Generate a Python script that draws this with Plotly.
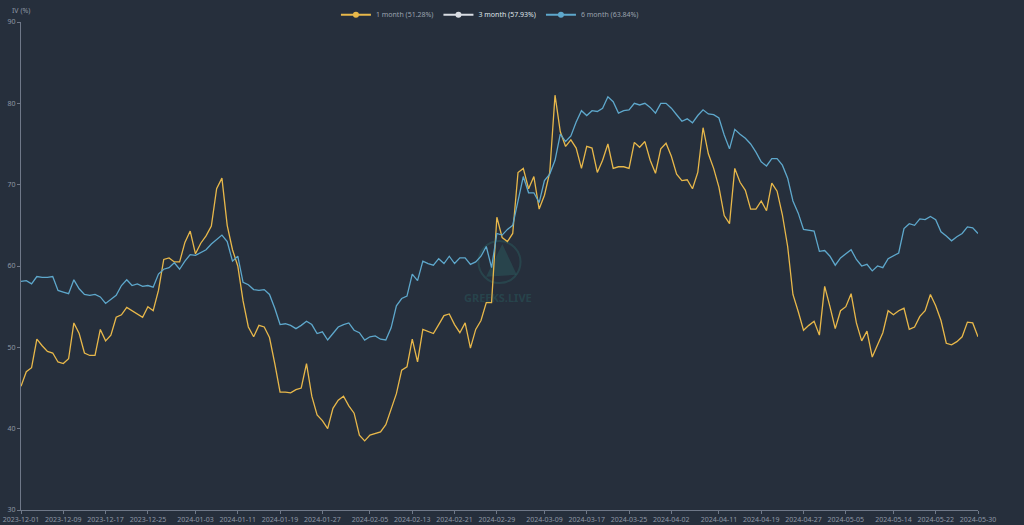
import pandas as pd
import plotly.graph_objects as go

# daily implied volatility readings, 2023-12-01 .. 2024-05-30
start_date = "2023-12-01"

iv_1m = [
    45.2, 47.0, 47.5, 51.0, 50.2, 49.5, 49.3, 48.2, 48.0, 48.6,
    53.0, 51.7, 49.3, 49.0, 49.0, 52.2, 50.8, 51.5, 53.7, 54.0,
    54.9, 54.5, 54.0, 53.7, 55.0, 54.5, 57.0, 60.8, 61.0, 60.5,
    60.5, 62.9, 64.3, 61.5, 62.8, 63.7, 64.9, 69.5, 70.8, 65.0,
    62.0, 60.0, 55.7, 52.5, 51.3, 52.7, 52.5, 51.2, 48.0, 44.5,
    44.5, 44.4, 44.8, 45.0, 48.0, 44.0, 41.7, 41.0, 40.0, 42.5,
    43.5, 44.0, 42.8, 41.9, 39.2, 38.5, 39.2, 39.4, 39.6, 40.5,
    42.3, 44.3, 47.2, 47.6, 51.0, 48.2, 52.2, 51.9, 51.7, 52.8,
    53.9, 54.1, 52.8, 51.8, 53.0, 49.9, 52.2, 53.3, 55.5, 55.5,
    66.0, 63.5, 63.0, 64.0, 71.5, 72.0, 69.5, 71.0, 67.0, 68.7,
    71.5, 81.0, 76.5, 74.7, 75.5, 74.5, 72.0, 74.7, 74.5, 71.5,
    73.0, 75.0, 72.0, 72.2, 72.2, 72.0, 75.2, 74.6, 75.3, 73.0,
    71.4, 74.4, 75.1, 73.5, 71.3, 70.5, 70.6, 69.5, 71.5, 77.0,
    73.8, 72.0, 69.7, 66.2, 65.2, 72.0, 70.3, 69.3, 67.0, 67.0,
    68.0, 66.8, 70.2, 69.2, 66.3, 62.4, 56.5, 54.4, 52.1, 52.7,
    53.2, 51.5, 57.5, 55.0, 52.3, 54.5, 55.0, 56.6, 53.0, 50.8,
    52.0, 48.8, 50.3, 51.8, 54.5, 54.0, 54.5, 54.8, 52.2, 52.5,
    53.8, 54.5, 56.5, 55.1, 53.3, 50.5, 50.3, 50.7, 51.3, 53.1,
    53.0, 51.3,
]

iv_6m = [
    58.1, 58.2, 57.8, 58.7, 58.6, 58.6, 58.7, 57.0, 56.8, 56.6,
    58.3, 57.2, 56.5, 56.4, 56.5, 56.2, 55.4, 55.9, 56.4, 57.6,
    58.3, 57.6, 57.8, 57.5, 57.6, 57.4, 59.0, 59.6, 59.8, 60.4,
    59.6, 60.6, 61.4, 61.3, 61.7, 62.0, 62.7, 63.2, 63.8, 63.0,
    60.6, 61.2, 58.0, 57.7, 57.1, 57.0, 57.1, 56.5, 54.8, 52.8,
    52.9, 52.7, 52.3, 52.7, 53.2, 52.8, 51.7, 51.9, 50.9, 51.7,
    52.5, 52.8, 53.0, 52.1, 51.8, 50.9, 51.3, 51.4, 51.0, 50.9,
    52.4, 55.1, 56.0, 56.3, 59.0, 58.2, 60.6, 60.3, 60.1, 60.9,
    60.3, 61.2, 60.3, 61.0, 61.0, 60.2, 60.5, 61.2, 62.4, 59.8,
    64.0, 63.8, 64.5, 65.0, 68.0, 71.0, 69.0, 69.0, 67.8, 70.5,
    71.3, 73.0, 76.2, 75.3, 76.0, 77.7, 79.1, 78.5, 79.1, 79.0,
    79.4, 80.8, 80.2, 78.8, 79.1, 79.2, 80.0, 79.8, 80.0, 79.5,
    78.8, 80.0, 80.0, 79.4, 78.6, 77.8, 78.1, 77.6, 78.5, 79.2,
    78.7, 78.6, 78.2, 76.1, 74.4, 76.8, 76.2, 75.7, 75.0, 74.0,
    72.8, 72.3, 73.2, 73.2, 72.4, 70.8, 68.0, 66.5, 64.5, 64.4,
    64.3, 61.8, 61.9, 61.2, 60.1, 61.0, 61.5, 62.0, 60.8, 60.0,
    60.2, 59.4, 60.0, 59.8, 60.9, 61.3, 61.6, 64.6, 65.2, 65.0,
    65.8, 65.7, 66.1, 65.7, 64.2, 63.7, 63.1, 63.6, 64.0, 64.8,
    64.7, 64.0,
]

series_names = ["1 month (51.28%)", "3 month (57.93%)", "6 month (63.84%)"]
series_colors = ["#e8b84a", "#d9dde3", "#5ea8cc"]
legend_text_colors = ["#9aa2ae", "#dfe3e8", "#9aa2ae"]

tick_dates = [
    "2023-12-01", "2023-12-09", "2023-12-17", "2023-12-25", "2024-01-03",
    "2024-01-11", "2024-01-19", "2024-01-27", "2024-02-05", "2024-02-13",
    "2024-02-21", "2024-02-29", "2024-03-09", "2024-03-17", "2024-03-25",
    "2024-04-02", "2024-04-11", "2024-04-19", "2024-04-27", "2024-05-05",
    "2024-05-14", "2024-05-22", "2024-05-30",
]
y_ticks = [30, 40, 50, 60, 70, 80, 90]

dates = pd.date_range(start_date, periods=len(iv_1m), freq="D")

bg = "#262f3c"
axis_col = "#6f7888"
label_col = "#8e97a5"
wm = "rgba(45,120,115,0.30)"

fig = go.Figure()

# actual lines
for vals, color in [(iv_1m, series_colors[0]), (iv_6m, series_colors[2])]:
    fig.add_trace(go.Scatter(x=dates, y=vals, mode="lines",
                             line=dict(color=color, width=1.3),
                             showlegend=False, hoverinfo="x+y"))

# legend entries (line + dot icons)
for name, color, tcol in zip(series_names, series_colors, legend_text_colors):
    fig.add_trace(go.Scatter(x=[None], y=[None], mode="lines+markers",
                             name=f"<span style='color:{tcol}'>{name}</span>",
                             line=dict(color=color, width=2),
                             marker=dict(color=color, size=6)))

# watermark
fig.add_shape(type="circle", xref="paper", yref="paper", layer="below",
              x0=0.478, x1=0.522, y0=0.465, y1=0.551,
              line=dict(color=wm, width=2))
fig.add_shape(type="path", xref="paper", yref="paper", layer="below",
              path="M 0.486 0.478 L 0.503 0.545 L 0.518 0.482 Z",
              fillcolor=wm, line=dict(width=0))
fig.add_annotation(text="<b>GREEKS.LIVE</b>", xref="paper", yref="paper",
                   x=0.498, y=0.436, showarrow=False,
                   font=dict(size=11, color=wm, family="Noto Sans"))

# y axis title
fig.add_annotation(text="IV (%)", xref="paper", yref="paper", x=0, y=1,
                   xanchor="center", yanchor="bottom", yshift=5, showarrow=False,
                   font=dict(size=7, color=label_col))

fig.update_layout(
    width=1024, height=525,
    paper_bgcolor=bg, plot_bgcolor=bg,
    margin=dict(l=21, r=46, t=22, b=15, autoexpand=False),
    font=dict(family="Noto Sans", size=7, color=label_col),
    legend=dict(orientation="h", x=0.49, xanchor="center",
                yref="container", y=0.972, yanchor="middle",
                font=dict(size=7, color="#9aa2ae"), itemwidth=30,
                bgcolor="rgba(0,0,0,0)"),
    showlegend=True,
)

fig.update_xaxes(
    type="date", range=[dates[0], dates[-1]],
    tickvals=tick_dates, ticktext=tick_dates, tickangle=0,
    showgrid=False, zeroline=False, automargin=False,
    showline=True, linecolor=axis_col, linewidth=1,
    ticks="outside", ticklen=3, tickcolor=axis_col,
    tickfont=dict(size=7, color=label_col),
)
fig.update_yaxes(
    range=[30, 90], tickvals=y_ticks, automargin=False,
    showgrid=False, zeroline=False,
    showline=True, linecolor=axis_col, linewidth=1,
    ticks="outside", ticklen=3, tickcolor=axis_col,
    tickfont=dict(size=7, color=label_col),
)

fig.write_html("out.html", config={"displayModeBar": False},
               post_script="document.body.style.margin='0';")
